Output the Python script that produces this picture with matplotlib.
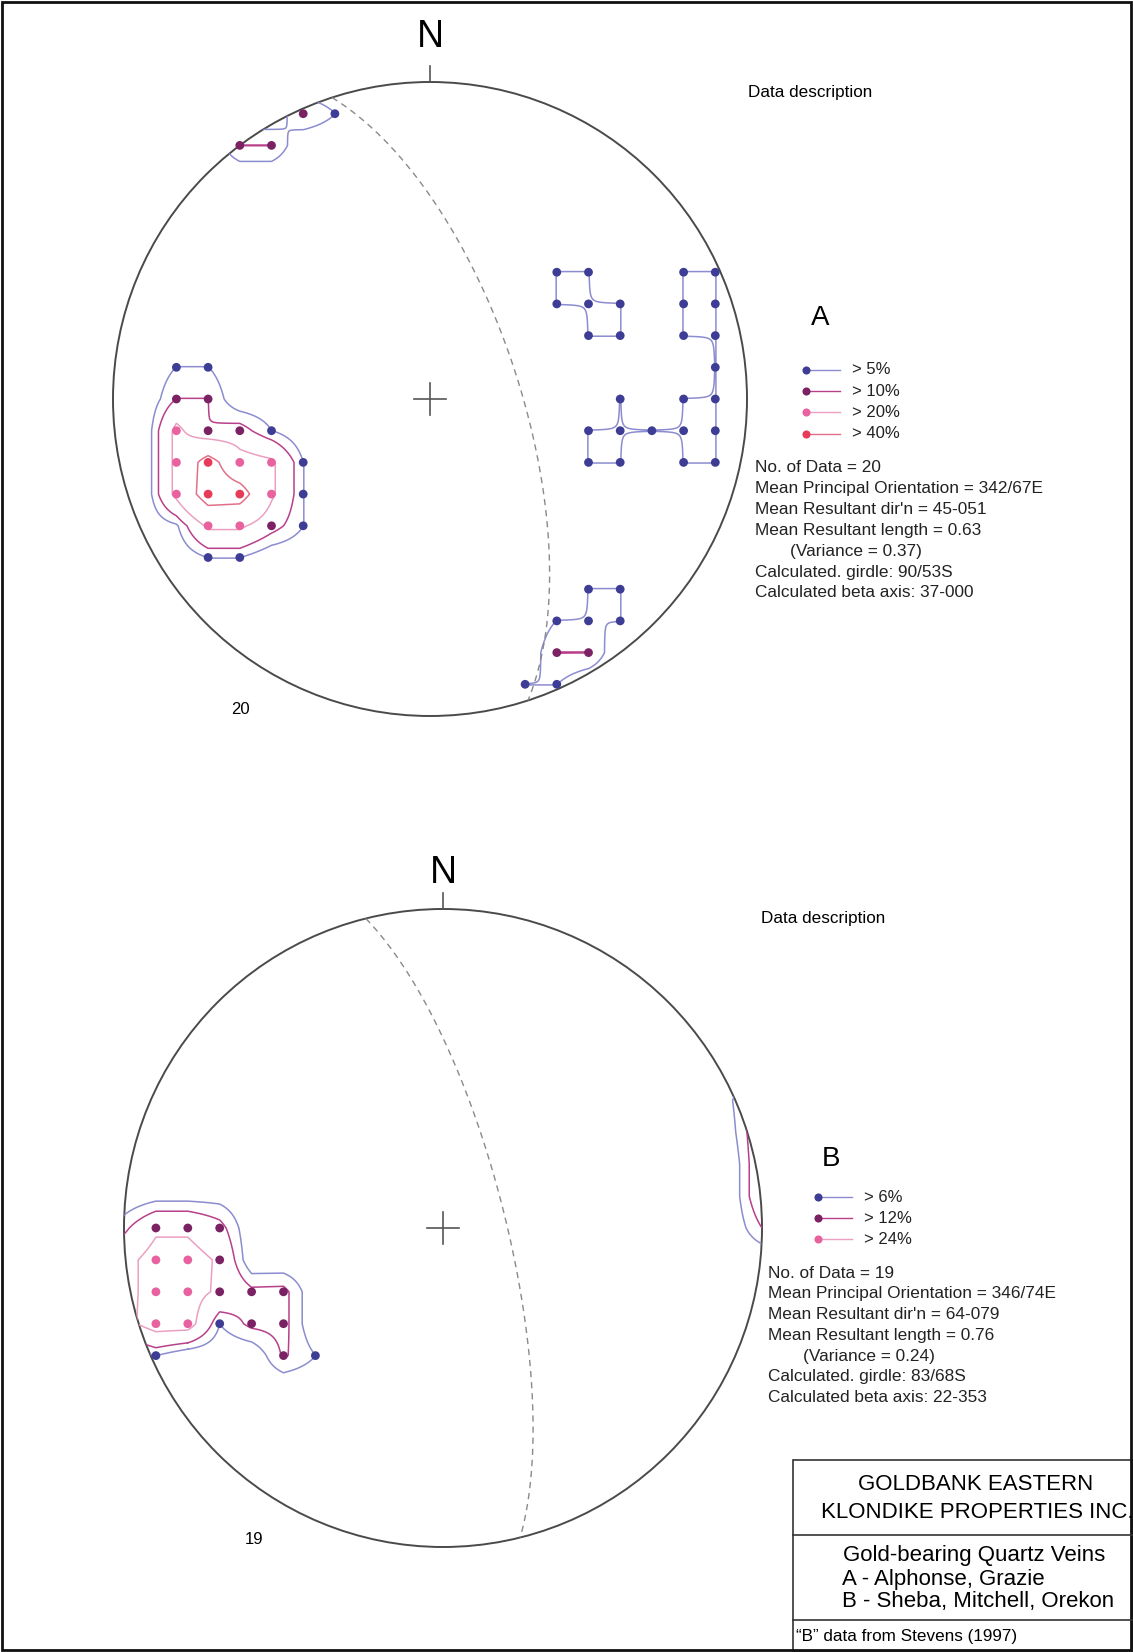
import numpy as np
import matplotlib.pyplot as plt
from matplotlib.patches import Circle, Rectangle

plt.rcParams['font.family'] = ['Liberation Sans', 'DejaVu Sans']

W, H = 1133, 1652

# density grid nodes, grid step = 1/10 of the net radius
# net A (Alphonse, Grazie)
a_x = [-8, -7,
       -8, -7,
       -8, -7, -6, -5,
       -8, -7, -6, -5, -4,
       -8, -7, -6, -5, -4,
       -8, -7, -6, -5, -4,
       -7, -6,
       4, 5, 8, 9,
       4, 5, 6, 8, 9,
       5, 6, 8, 9,
       9,
       6, 8, 9,
       5, 6, 7, 8, 9,
       5, 6, 8, 9,
       5, 6, 4, 5, 6, 4, 5, 3, 4,
       -4, -3, -6, -5]
a_y = [1, 1,
       0, 0,
       -1, -1, -1, -1,
       -2, -2, -2, -2, -2,
       -3, -3, -3, -3, -3,
       -4, -4, -4, -4, -4,
       -5, -5,
       4, 4, 4, 4,
       3, 3, 3, 3, 3,
       2, 2, 2, 2,
       1,
       0, 0, 0,
       -1, -1, -1, -1, -1,
       -2, -2, -2, -2,
       -6, -6, -7, -7, -7, -8, -8, -9, -9,
       9, 9, 8, 8]
a_pct = [5.1, 5.1,
         10.1, 10.1,
         23, 10.1, 13, 5.1,
         23, 48, 25, 22, 5.1,
         23, 50, 48, 22, 5.1,
         4, 22, 22, 13, 5.1,
         5.1, 5.1,
         5.1, 5.1, 5.1, 5.1,
         5.1, 5.1, 5.1, 5.1, 5.1,
         5.1, 5.1, 5.1, 5.1,
         5.1,
         5.1, 5.1, 5.1,
         5.1, 5.1, 5.1, 5.1, 5.1,
         5.1, 5.1, 5.1, 5.1,
         5.1, 5.1, 5.1, 5.1, 5.1, 10.1, 10.1, 5.1, 5.1,
         10.1, 5.1, 10.1, 10.1]
a_levels = [5, 10, 20, 40]
a_plane = (342, 67)
a_count = 20
a_stats = ["No. of Data = 20",
           "Mean Principal Orientation = 342/67E",
           "Mean Resultant dir'n = 45-051",
           "Mean Resultant length = 0.63",
           "(Variance = 0.37)",
           "Calculated. girdle: 90/53S",
           "Calculated beta axis: 37-000"]

# net B (Sheba, Mitchell, Orekon)
b_x = [-9, -8, -7,
       -9, -8, -7,
       -9, -8, -7, -6, -5,
       -9, -8, -7, -6, -5,
       -9, -5, -4]
b_y = [0, 0, 0,
       -1, -1, -1,
       -2, -2, -2, -2, -2,
       -3, -3, -3, -3, -3,
       -4, -4, -4]
b_pct = [22, 22, 15,
         29, 29, 22.5,
         29, 29, 22, 14, 14.5,
         30, 30, 6.1, 14, 14.5,
         6.1, 13, 6.1]
# low nodes and density wrapped across the primitive circle (no dots drawn)
b_wrap_x = [-9, -8, -7, -10, -10, -10, -10, 10, 10, 10, 10, 10, 10, 9, 9]
b_wrap_y = [1, 1, 1, 0, -1, -2, -3, 0, 1, 2, 3, 4, 5, 3, 4]
b_wrap_pct = [3, 3, 3, 10, 20, 20, 20, 12, 20, 20, 20, 18, 10, 3, 5]
b_levels = [6, 12, 24]
b_plane = (346, 74)
b_count = 19
b_stats = ["No. of Data = 19",
           "Mean Principal Orientation = 346/74E",
           "Mean Resultant dir'n = 64-079",
           "Mean Resultant length = 0.76",
           "(Variance = 0.24)",
           "Calculated. girdle: 83/68S",
           "Calculated beta axis: 22-353"]

dot_colors = ['#3d3d95', '#7a2264', '#e8629f', '#e63c5a']
line_colors = ['#8c8cd0', '#b8408a', '#eba0c2', '#e0708a']

fig = plt.figure(figsize=(W / 100, H / 100), dpi=100)
over = fig.add_axes([0, 0, 1, 1])
over.set_xlim(0, W)
over.set_ylim(H, 0)
over.axis('off')


def great_circle(strike, dip):
    s = np.radians(strike)
    dd = np.radians(strike + 90)
    d = np.radians(dip)
    t = np.linspace(0, np.pi, 300)
    sv = np.array([np.sin(s), np.cos(s), 0.0])
    dv = np.array([np.cos(d) * np.sin(dd), np.cos(d) * np.cos(dd), -np.sin(d)])
    v = np.outer(np.cos(t), sv) + np.outer(np.sin(t), dv)
    plunge = np.arcsin(np.clip(-v[:, 2], 0, 1))
    trend = np.arctan2(v[:, 0], v[:, 1])
    r = 10 * np.sqrt(2) * np.sin((np.pi / 2 - plunge) / 2)
    return r * np.sin(trend), r * np.cos(trend)


def density_field(xs, ys, pct):
    # node grid, then bilinear refinement so contours follow grid edges
    g = np.arange(-11, 12)
    z = np.zeros((len(g), len(g)))
    for xi, yi, p in zip(xs, ys, pct):
        z[yi + 11, xi + 11] = p
    f = np.linspace(-11, 11, 441)
    rows = np.array([np.interp(f, g, r) for r in z])
    fine = np.array([np.interp(f, g, c) for c in rows.T]).T
    return f, fine


def draw_net(cx, cy, rpx, xs, ys, pct, levels, plane, n_y, wx=(), wy=(), wp=()):
    step = rpx / 10
    span = 12
    ax = fig.add_axes([(cx - span * step) / W, 1 - (cy + span * step) / H,
                       2 * span * step / W, 2 * span * step / H])
    ax.set_xlim(-span, span)
    ax.set_ylim(-span, span)
    ax.axis('off')
    ax.patch.set_alpha(0)

    f, fine = density_field(list(xs) + list(wx), list(ys) + list(wy),
                            list(pct) + list(wp))
    cs = ax.contour(f, f, fine, levels=levels, colors=line_colors[:len(levels)],
                    linewidths=1.1)
    cs.set_clip_path(Circle((0, 0), 10, transform=ax.transData))

    ax.add_patch(Circle((0, 0), 10, fill=False, ec='#4a4a4a', lw=1.4))
    ax.plot([-0.5, 0.5], [0, 0], color='#555555', lw=1.2)
    ax.plot([0, 0], [-0.5, 0.5], color='#555555', lw=1.2)
    ax.plot([0, 0], [10, 10.5], color='#555555', lw=1.2)
    ax.text(0, n_y, 'N', fontsize=27, ha='center', va='center')

    gx, gy = great_circle(*plane)
    ax.plot(gx, gy, color='#8a8a8a', lw=1.0, ls=(0, (4.5, 3.5)))

    px, py, pc = [], [], []
    for xi, yi, p in zip(xs, ys, pct):
        if p >= levels[0]:
            k = sum(p >= lv for lv in levels) - 1
            px.append(xi)
            py.append(yi)
            pc.append(dot_colors[k])
    ax.scatter(px, py, s=40, c=pc, zorder=5, linewidths=0)
    return ax


def side_text(label, lx, ly, lab_xy, dd_xy, levels, stats, sx, sy):
    over.text(*lab_xy, label, fontsize=20, ha='center', va='center')
    over.text(*dd_xy, 'Data description', fontsize=12.3, ha='left', va='center')
    for k, lv in enumerate(levels):
        yy = ly + k * 21.2
        over.plot([lx, lx + 34], [yy, yy], color=line_colors[k], lw=1.0)
        over.scatter([lx], [yy], s=34, color=dot_colors[k], zorder=5, linewidths=0)
        over.text(lx + 46, yy, f'> {lv}%', fontsize=12, ha='left', va='center',
                  color='#222222')
    for k, line in enumerate(stats):
        indent = 35 if line.startswith('(') else 0
        over.text(sx + indent, sy + k * 20.8, line, fontsize=12.4, ha='left',
                  va='center', color='#222222')


draw_net(430, 399, 317, a_x, a_y, a_pct, a_levels, a_plane, 11.43)
draw_net(443, 1228, 319, b_x, b_y, b_pct, b_levels, b_plane, 11.13,
         b_wrap_x, b_wrap_y, b_wrap_pct)

side_text('A', 806, 370, (820, 318), (748, 92), a_levels, a_stats, 755, 468)
side_text('B', 818, 1197, (831, 1159), (761, 918), b_levels, b_stats, 768, 1273)

over.text(240, 710, str(a_count), fontsize=12, ha='center', va='center')
over.text(254, 1540, str(b_count), fontsize=12, ha='center', va='center')

# title block
over.add_patch(Rectangle((793, 1460), 340, 192, fill=False, ec='#333333', lw=1.2))
over.plot([793, 1133], [1535, 1535], color='#333333', lw=1.2)
over.plot([793, 1133], [1620, 1620], color='#333333', lw=1.2)
over.text(976, 1484, 'GOLDBANK EASTERN', fontsize=16, ha='center', va='center')
over.text(977, 1512, 'KLONDIKE PROPERTIES INC.', fontsize=16, ha='center', va='center')
over.text(843, 1556, 'Gold-bearing Quartz Veins', fontsize=16, ha='left', va='center')
over.text(842, 1579, 'A - Alphonse, Grazie', fontsize=16, ha='left', va='center')
over.text(842, 1602, 'B - Sheba, Mitchell, Orekon', fontsize=16, ha='left', va='center')
over.text(796, 1636, '\u201cB\u201d data from Stevens (1997)', fontsize=12.3,
          ha='left', va='center')

# outer frame
over.add_patch(Rectangle((2, 2), W - 4, H - 4, fill=False, ec='#111111', lw=2))

fig.savefig('out.png', dpi=100)
